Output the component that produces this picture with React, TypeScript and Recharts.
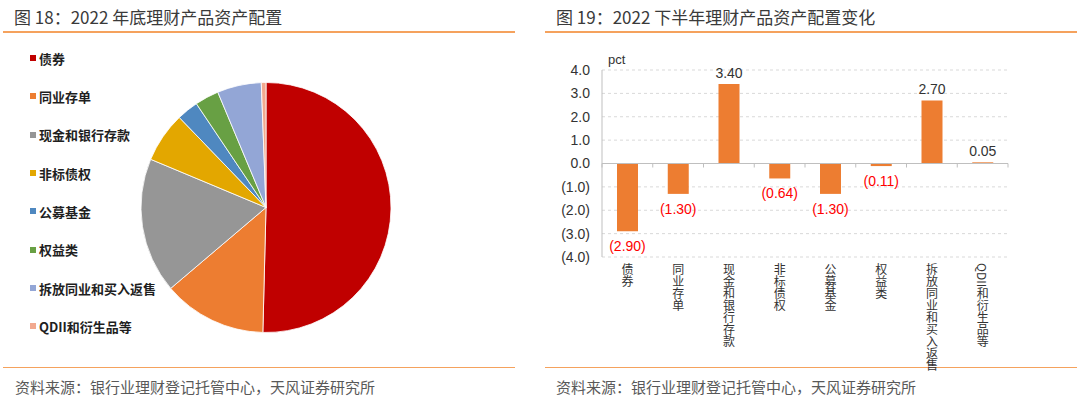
import React from 'react';
import {
  PieChart, Pie, Cell,
  BarChart, Bar, XAxis, YAxis, CartesianGrid, ReferenceLine, LabelList,
} from 'recharts';

// ---------------- data ----------------
const CATEGORIES = ['债券', '同业存单', '现金和银行存款', '非标债权', '公募基金', '权益类', '拆放同业和买入返售', 'QDII和衍生品等'];
const SHARE_END_2022 = [50.4, 13.4, 17.5, 6.5, 2.8, 3.1, 5.7, 0.6];
const CHANGE_H2_2022 = [-2.9, -1.3, 3.4, -0.64, -1.3, -0.11, 2.7, 0.05];
const Y_TICKS = [4, 3, 2, 1, 0, -1, -2, -3, -4];

const LEFT_TITLE = '图 18：2022 年底理财产品资产配置';
const RIGHT_TITLE = '图 19：2022 下半年理财产品资产配置变化';
const SOURCE = '资料来源：银行业理财登记托管中心，天风证券研究所';
const UNIT = 'pct';

// ---------------- styles ----------------
const SLICE_COLORS = ['#C00000', '#ED7D31', '#969696', '#E3A700', '#4F88C0', '#68A044', '#93A6D6', '#F2A98F'];
const BAR_COLOR = '#ED7D31';
const RULE_COLOR = '#F5A25D';
const CJK = '"Noto Sans CJK SC", "Noto Sans", sans-serif';
const LATIN = '"Liberation Sans", Arial, sans-serif';

const pieData = CATEGORIES.map((name, i) => ({ name, value: SHARE_END_2022[i] }));
const barData = CATEGORIES.map((name, i) => ({ name, value: CHANGE_H2_2022[i] }));

const fmt = (v: number, digits: number) =>
  v < 0 ? `(${Math.abs(v).toFixed(digits)})` : v.toFixed(digits);

function PieLegend() {
  return (
    <div style={{ position: 'absolute', left: 30, top: 39 }}>
      {CATEGORIES.map((name, i) => (
        <div key={name} style={{ height: 38.34, display: 'flex', alignItems: 'center' }}>
          <span style={{ width: 6, height: 6, background: SLICE_COLORS[i], display: 'inline-block', marginRight: 3 }} />
          <span style={{ fontFamily: CJK, fontWeight: 700, fontSize: 13, color: '#1f1f1f', lineHeight: '13px', whiteSpace: 'nowrap' }}>{name}</span>
        </div>
      ))}
    </div>
  );
}

function VerticalTick(props: any) {
  const { x, y, payload } = props;
  return (
    <text x={x} y={y + 6} textAnchor="start" fontSize={12} fill="#333" fontFamily={CJK}
      style={{ writingMode: 'vertical-rl' as any }}>
      {String(payload.value)}
    </text>
  );
}

function ValueLabel(props: any) {
  const { x, y, width, height, value } = props;
  const top = Math.min(y, y + height);
  const bottom = Math.max(y, y + height);
  const cx = x + width / 2;
  if (value < 0) {
    return (
      <text x={cx} y={bottom + 15} dominantBaseline="central" textAnchor="middle"
        fontSize={14} fill="#FF0000" fontFamily={LATIN}>
        {fmt(value, 2)}
      </text>
    );
  }
  return (
    <text x={cx} y={top - 11} dominantBaseline="central" textAnchor="middle"
      fontSize={14} fill="#333" fontFamily={LATIN}>
      {fmt(value, 2)}
    </text>
  );
}

function ZeroAxis(props: any) {
  const { x1, y1, x2 } = props;
  const n = CATEGORIES.length;
  const ticks = [];
  for (let i = 0; i <= n; i++) {
    const tx = x1 + ((x2 - x1) * i) / n;
    ticks.push(<line key={i} x1={tx} x2={tx} y1={y1} y2={y1 + 4} stroke="#BFBFBF" strokeWidth={1} />);
  }
  return (
    <g>
      <line x1={x1} x2={x2} y1={y1} y2={y1} stroke="#BFBFBF" strokeWidth={1} />
      {ticks}
    </g>
  );
}

const rule = (left: number, top: number, width: number) => (
  <div style={{ position: 'absolute', left, top, width, height: 1.5, background: RULE_COLOR }} />
);

const textBox = (text: string, left: number, centerY: number, size: number, color: string, family = CJK) => (
  <div style={{
    position: 'absolute', left, top: centerY - size / 2, fontSize: size, lineHeight: `${size}px`,
    color, fontFamily: family, whiteSpace: 'nowrap',
  }}>{text}</div>
);

export default function App() {
  return (
    <div style={{ position: 'fixed', left: 0, top: 0, width: 1080, height: 397, background: '#fff', overflow: 'hidden' }}>
      {textBox(LEFT_TITLE, 14, 16, 17, '#3a3a3a')}
      {textBox(RIGHT_TITLE, 556, 16, 17, '#3a3a3a')}
      {rule(3, 31, 512)}
      {rule(545, 31, 532)}
      {rule(3, 366.5, 512)}
      {rule(545, 366.5, 532)}
      {textBox(SOURCE, 15, 386.5, 15, '#595959')}
      {textBox(SOURCE, 556, 386.5, 15, '#595959')}

      <div style={{ position: 'absolute', left: 0, top: 0 }}>
        <PieChart width={540} height={360} margin={{ top: 0, right: 0, bottom: 0, left: 0 }}>
          <Pie data={pieData} dataKey="value" nameKey="name" cx={266} cy={207.5} outerRadius={125}
            startAngle={90} endAngle={-270} stroke="#ffffff" strokeWidth={0.8} isAnimationActive={false}>
            {pieData.map((d, i) => (
              <Cell key={d.name} fill={SLICE_COLORS[i]} />
            ))}
          </Pie>
        </PieChart>
      </div>
      <PieLegend />

      {textBox(UNIT, 608, 59, 13, '#333', LATIN)}

      <div style={{ position: 'absolute', left: 545, top: 0 }}>
        <BarChart width={535} height={397} data={barData} margin={{ top: 70, right: 72, bottom: 0, left: 0 }}>
          <CartesianGrid horizontal vertical={false} stroke="#D9D9D9" strokeDasharray="3 3" />
          <YAxis type="number" domain={[-4, 4]} ticks={Y_TICKS} width={57} interval={0}
            tickFormatter={(v: number) => fmt(v, 1)} tickLine={false} tickSize={6} tickMargin={6}
            axisLine={{ stroke: '#BFBFBF' }}
            tick={{ fontSize: 14, fill: '#333', fontFamily: LATIN }} />
          <XAxis dataKey="name" type="category" height={140} interval={0} axisLine={false}
            tickLine={false} tickSize={0} tickMargin={0} tick={<VerticalTick />} />
          <Bar dataKey="value" fill={BAR_COLOR} barSize={21} isAnimationActive={false}>
            <LabelList dataKey="value" content={<ValueLabel />} />
          </Bar>
          <ReferenceLine y={0} shape={<ZeroAxis />} />
        </BarChart>
      </div>
    </div>
  );
}
